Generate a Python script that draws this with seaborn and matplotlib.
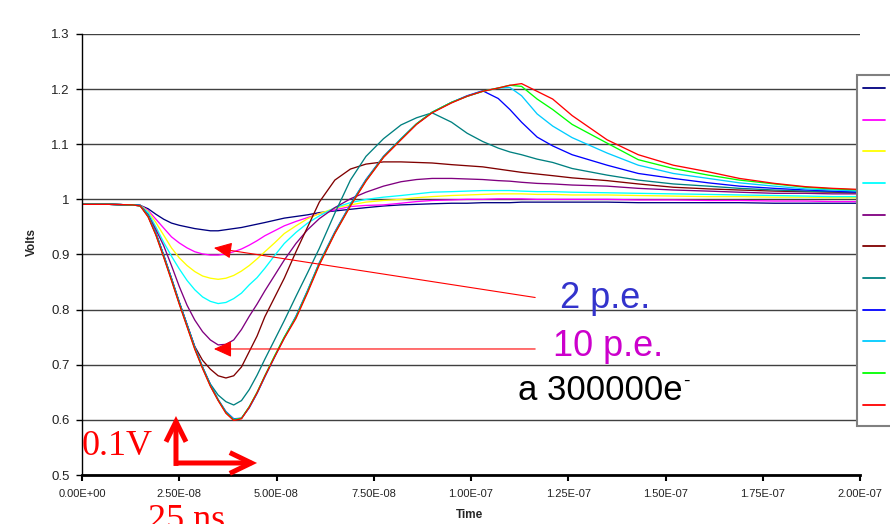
import numpy as np
import pandas as pd
import matplotlib
matplotlib.use("Agg")
import matplotlib.pyplot as plt
import seaborn as sns
from matplotlib.lines import Line2D

# ---------------- data ----------------
time_ns = [0, 7, 13, 15, 17, 19, 21, 23, 25, 27,
           29, 31, 33, 35, 37, 39, 41, 43, 45, 47,
           49.5, 52, 55, 58, 61, 65, 69, 73, 77.5, 82,
           86, 90, 95, 99, 103, 107, 110, 113, 117, 121,
           126, 135, 143, 152, 161, 169, 178, 186, 193, 200]

s_navy = [0.991, 0.991, 0.990, 0.989, 0.983, 0.973, 0.964, 0.957, 0.953, 0.950,
          0.947, 0.945, 0.943, 0.943, 0.945, 0.947, 0.949, 0.952, 0.955, 0.958,
          0.962, 0.966, 0.969, 0.972, 0.976, 0.979, 0.982, 0.985, 0.988, 0.990,
          0.991, 0.992, 0.993, 0.993, 0.994, 0.994, 0.994, 0.995, 0.995, 0.995,
          0.995, 0.995, 0.994, 0.994, 0.994, 0.994, 0.993, 0.993, 0.993, 0.993]
s_magenta = [0.991, 0.991, 0.990, 0.989, 0.980, 0.964, 0.948, 0.932, 0.921, 0.912,
             0.905, 0.901, 0.899, 0.899, 0.901, 0.905, 0.910, 0.917, 0.925, 0.934,
             0.943, 0.952, 0.960, 0.967, 0.974, 0.981, 0.987, 0.989, 0.990, 0.993,
             0.996, 0.998, 0.999, 1.000, 1.000, 1.001, 1.001, 1.001, 1.000, 1.000,
             1.000, 1.000, 0.999, 0.999, 0.998, 0.998, 0.997, 0.997, 0.996, 0.996]
s_yellow = [0.991, 0.991, 0.990, 0.989, 0.978, 0.958, 0.935, 0.912, 0.894, 0.880,
            0.869, 0.861, 0.857, 0.855, 0.857, 0.862, 0.870, 0.880, 0.892, 0.905,
            0.921, 0.938, 0.952, 0.965, 0.974, 0.984, 0.990, 0.995, 0.998, 1.000,
            1.003, 1.005, 1.007, 1.008, 1.009, 1.010, 1.010, 1.010, 1.009, 1.009,
            1.008, 1.008, 1.007, 1.006, 1.005, 1.005, 1.004, 1.004, 1.003, 1.003]
s_cyan = [0.991, 0.991, 0.990, 0.988, 0.976, 0.950, 0.922, 0.897, 0.874, 0.853,
          0.836, 0.823, 0.815, 0.811, 0.813, 0.820, 0.830, 0.845, 0.858, 0.875,
          0.898, 0.920, 0.940, 0.957, 0.970, 0.985, 0.994, 1.000, 1.004, 1.007,
          1.010, 1.013, 1.014, 1.015, 1.016, 1.016, 1.016, 1.015, 1.014, 1.014,
          1.013, 1.012, 1.011, 1.010, 1.009, 1.008, 1.007, 1.006, 1.005, 1.005]
s_purple = [0.991, 0.991, 0.990, 0.988, 0.972, 0.945, 0.916, 0.880, 0.842, 0.808,
            0.781, 0.760, 0.745, 0.736, 0.737, 0.745, 0.764, 0.788, 0.810, 0.834,
            0.862, 0.890, 0.920, 0.945, 0.965, 0.985, 1.001, 1.013, 1.024, 1.032,
            1.036, 1.038, 1.038, 1.037, 1.036, 1.034, 1.033, 1.031, 1.029, 1.028,
            1.026, 1.024, 1.020, 1.017, 1.015, 1.013, 1.011, 1.011, 1.010, 1.010]
s_darkred = [0.991, 0.991, 0.990, 0.989, 0.970, 0.938, 0.898, 0.856, 0.813, 0.773,
             0.733, 0.708, 0.692, 0.680, 0.676, 0.680, 0.696, 0.724, 0.752, 0.787,
             0.822, 0.857, 0.905, 0.950, 0.995, 1.035, 1.055, 1.064, 1.068, 1.068,
             1.067, 1.066, 1.063, 1.061, 1.059, 1.055, 1.052, 1.049, 1.046, 1.043,
             1.039, 1.034, 1.028, 1.022, 1.019, 1.017, 1.015, 1.014, 1.013, 1.012]
s_teal = [0.991, 0.991, 0.990, 0.989, 0.970, 0.938, 0.898, 0.856, 0.813, 0.772,
          0.731, 0.695, 0.665, 0.645, 0.633, 0.627, 0.635, 0.655, 0.681, 0.710,
          0.745, 0.780, 0.824, 0.867, 0.911, 0.975, 1.035, 1.078, 1.110, 1.135,
          1.148, 1.157, 1.140, 1.120, 1.105, 1.093, 1.086, 1.081, 1.073, 1.067,
          1.056, 1.044, 1.035, 1.028, 1.024, 1.020, 1.017, 1.015, 1.014, 1.013]
s_blue = [0.991, 0.991, 0.990, 0.989, 0.971, 0.939, 0.899, 0.857, 0.814, 0.773,
          0.732, 0.696, 0.664, 0.637, 0.615, 0.602, 0.603, 0.622, 0.648, 0.678,
          0.714, 0.749, 0.788, 0.835, 0.885, 0.941, 0.991, 1.036, 1.078, 1.110,
          1.137, 1.158, 1.176, 1.188, 1.197, 1.183, 1.163, 1.140, 1.113, 1.097,
          1.081, 1.062, 1.047, 1.038, 1.030, 1.024, 1.020, 1.017, 1.015, 1.013]
s_sky = [0.991, 0.991, 0.990, 0.989, 0.970, 0.938, 0.898, 0.856, 0.813, 0.772,
         0.731, 0.695, 0.663, 0.636, 0.614, 0.601, 0.603, 0.623, 0.649, 0.679,
         0.715, 0.750, 0.787, 0.834, 0.884, 0.940, 0.990, 1.035, 1.077, 1.110,
         1.137, 1.158, 1.176, 1.187, 1.196, 1.202, 1.203, 1.188, 1.155, 1.133,
         1.112, 1.084, 1.062, 1.047, 1.038, 1.030, 1.024, 1.019, 1.017, 1.015]
s_green = [0.991, 0.991, 0.990, 0.988, 0.969, 0.936, 0.896, 0.854, 0.811, 0.770,
           0.729, 0.694, 0.662, 0.636, 0.613, 0.600, 0.603, 0.624, 0.650, 0.680,
           0.716, 0.750, 0.786, 0.833, 0.883, 0.939, 0.989, 1.034, 1.077, 1.109,
           1.137, 1.158, 1.176, 1.187, 1.196, 1.202, 1.207, 1.205, 1.182, 1.163,
           1.136, 1.102, 1.072, 1.056, 1.044, 1.035, 1.028, 1.022, 1.019, 1.017]
s_red = [0.991, 0.991, 0.990, 0.988, 0.968, 0.935, 0.895, 0.853, 0.810, 0.769,
         0.728, 0.693, 0.661, 0.635, 0.612, 0.599, 0.602, 0.623, 0.649, 0.679,
         0.714, 0.748, 0.784, 0.831, 0.881, 0.938, 0.988, 1.033, 1.076, 1.108,
         1.136, 1.157, 1.175, 1.187, 1.196, 1.202, 1.207, 1.210, 1.196, 1.182,
         1.152, 1.108, 1.081, 1.062, 1.050, 1.038, 1.029, 1.023, 1.020, 1.018]

series_names = ["Series1", "Series2", "Series3", "Series4", "Series5", "Series6",
                "Series7", "Series8", "Series9", "Series10", "Series11"]
series_values = [s_navy, s_magenta, s_yellow, s_cyan, s_purple, s_darkred,
                 s_teal, s_blue, s_sky, s_green, s_red]
series_colors = ["#000080", "#FF00FF", "#FFFF00", "#00FFFF", "#800080", "#800000",
                 "#008080", "#0000FF", "#00CCFF", "#00FF00", "#FF0000"]

y_ticks = [0.5, 0.6, 0.7, 0.8, 0.9, 1.0, 1.1, 1.2, 1.3]
y_tick_labels = ["0.5", "0.6", "0.7", "0.8", "0.9", "1", "1.1", "1.2", "1.3"]
x_ticks_ns = [0, 25, 50, 75, 100, 125, 150, 175, 200]
x_tick_labels = ["0.00E+00", "2.50E-08", "5.00E-08", "7.50E-08", "1.00E-07",
                 "1.25E-07", "1.50E-07", "1.75E-07", "2.00E-07"]

# ---------------- figure ----------------
sns.set_style("white")
plt.rcParams["font.family"] = ["Liberation Sans", "DejaVu Sans"]

W, H = 890, 524
fig = plt.figure(figsize=(W / 100, H / 100), dpi=100)
ax = fig.add_axes([82 / W, 1 - 475 / H, (860 - 82) / W, (475 - 34) / H])


def fpx(x, y):
    return x / W, 1 - y / H


rows = []
for name, vals in zip(series_names, series_values):
    for t, v in zip(time_ns, vals):
        rows.append((name, t * 1e-9, v))
df = pd.DataFrame(rows, columns=["series", "t", "v"])

sns.lineplot(data=df, x="t", y="v", hue="series", hue_order=series_names,
             palette=series_colors, linewidth=0.95, estimator=None, sort=False,
             legend=False, ax=ax)

ax.set_xlim(0, 2e-7)
ax.set_ylim(0.5, 1.3)
ax.set_yticks(y_ticks)
ax.set_yticklabels(y_tick_labels)
ax.set_xticks([t * 1e-9 for t in x_ticks_ns])
ax.set_xticklabels(x_tick_labels)
ax.yaxis.grid(True, color="#404040", linewidth=1.0)
ax.xaxis.grid(False)
ax.set_axisbelow(True)

for s in ["top", "right"]:
    ax.spines[s].set_visible(False)
ax.spines["left"].set_color("black")
ax.spines["left"].set_linewidth(1.0)
ax.spines["bottom"].set_color("black")
ax.spines["bottom"].set_linewidth(2.0)

ax.tick_params(axis="y", direction="out", length=4, width=1, color="black",
               labelsize=9.5, pad=5, labelcolor="#222222", left=True)
ax.tick_params(axis="x", direction="out", length=4, width=1.5, color="black",
               labelsize=8, pad=6, labelcolor="#222222", bottom=True)

ax.set_xlabel("")
ax.set_ylabel("")
fig.text(*fpx(32, 242), "Volts", rotation=90, fontsize=8.5, fontweight="bold",
         ha="center", va="center")
fig.text(*fpx(470, 515), "Time", fontsize=8.5, fontweight="bold",
         ha="center", va="center")

# ---------------- legend (cut off at right edge) ----------------
handles = [Line2D([0], [0], color=c, lw=1.3) for c in series_colors]
leg = fig.legend(handles, series_names, loc="upper left",
                 bbox_to_anchor=fpx(857, 75), bbox_transform=fig.transFigure,
                 fontsize=8, frameon=True, fancybox=False, framealpha=1,
                 edgecolor="#808080", borderpad=0.5, labelspacing=0.72,
                 handleheight=2.9, handlelength=2.0, handletextpad=0.6,
                 borderaxespad=0)
leg.get_frame().set_linewidth(1.5)

# ---------------- annotations ----------------
fig.text(*fpx(560, 308), "2 p.e.", color="#3333CC", fontsize=26, va="baseline", ha="left")
fig.text(*fpx(553, 356), "10 p.e.", color="#CC00CC", fontsize=26, va="baseline", ha="left")
fig.text(*fpx(518, 400), "a 300000e", color="black", fontsize=25, va="baseline", ha="left")
fig.text(*fpx(683, 386), "-", color="black", fontsize=14, va="baseline", ha="left")

ax.annotate("", xy=(33.9e-9, 0.912), xytext=(116.5e-9, 0.822),
            arrowprops=dict(arrowstyle="-|>,head_length=1.1,head_width=0.5",
                            color="red", lw=0.8, shrinkA=0, shrinkB=0))
ax.annotate("", xy=(33.9e-9, 0.7286), xytext=(116.5e-9, 0.7286),
            arrowprops=dict(arrowstyle="-|>,head_length=1.1,head_width=0.5",
                            color="red", lw=0.8, shrinkA=0, shrinkB=0))

# L-shaped scale arrows
ax.annotate("", xy=(24.16e-9, 0.607), xytext=(24.16e-9, 0.5165),
            arrowprops=dict(arrowstyle="->,head_length=1.45,head_width=0.72",
                            color="red", lw=3.6, shrinkA=0, shrinkB=0,
                            joinstyle="miter", capstyle="butt"))
ax.annotate("", xy=(45.0e-9, 0.5218), xytext=(23.7e-9, 0.5218),
            arrowprops=dict(arrowstyle="->,head_length=1.55,head_width=0.75",
                            color="red", lw=3.6, shrinkA=0, shrinkB=0,
                            joinstyle="miter", capstyle="butt"))

fig.text(*fpx(82, 455), "0.1V", color="red", fontsize=26, family="Liberation Serif",
         va="baseline", ha="left")
fig.text(*fpx(148, 529), "25 ns", color="red", fontsize=26, family="Liberation Serif",
         va="baseline", ha="left")

fig.savefig("out.png", dpi=100)
